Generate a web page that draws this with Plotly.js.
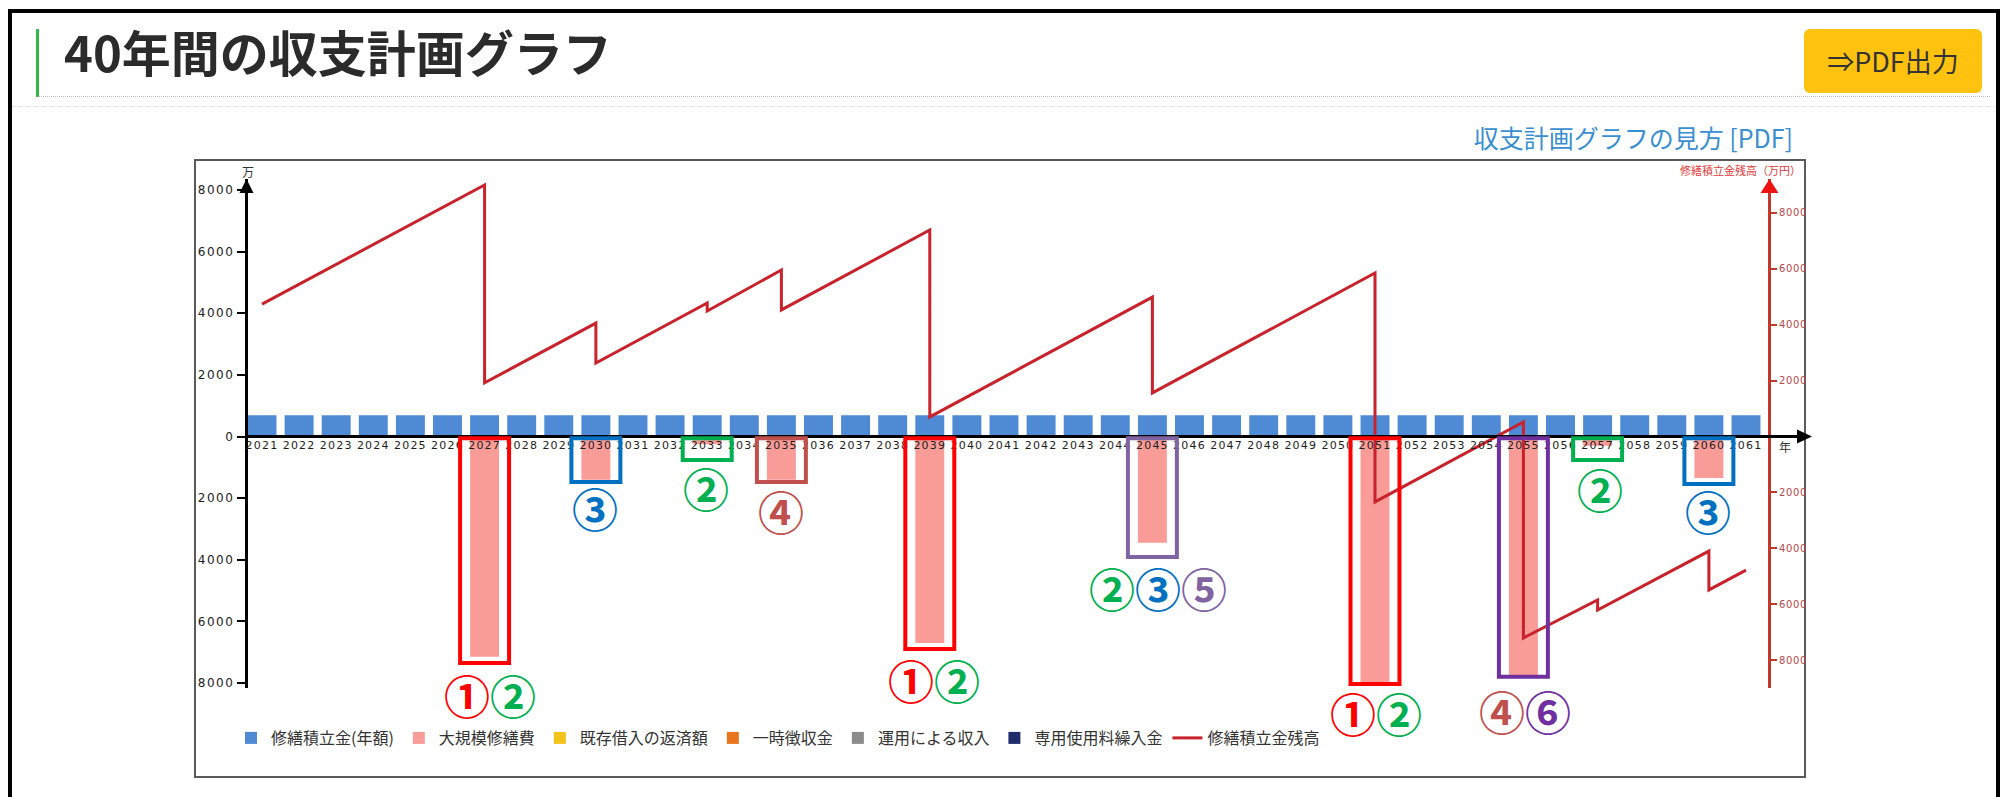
<!DOCTYPE html>
<html>
<head>
<meta charset="utf-8">
<script src="https://cdn.plot.ly/plotly-3.0.1.min.js"></script>
<style>
  html, body { margin: 0; padding: 0; background: #fff; width: 2004px; height: 797px; overflow: hidden;
    font-family: "Noto Sans CJK JP", "Noto Sans", sans-serif; }
  #frame { position: absolute; left: 8px; top: 9px; width: 1992px; height: 900px; box-sizing: border-box;
    border: 4px solid #000; border-bottom: none; }
  #accent { position: absolute; left: 36px; top: 29px; width: 3px; height: 68px; background: #35b44a; }
  #heading { position: absolute; left: 64px; top: 25px; height: 52px; line-height: 52px; font-size: 49px;
    font-weight: 700; color: #2b2b2b; white-space: nowrap; }
  #rule1 { position: absolute; left: 38px; top: 96px; width: 1952px; border-top: 1px dotted #b8b8b8; }
  #rule2 { position: absolute; left: 12px; top: 106px; width: 1984px; border-top: 1px dotted #dcdcdc; }
  #pdfbtn { position: absolute; left: 1804px; top: 29px; width: 178px; height: 64px; border-radius: 6px;
    background: #ffc20e; color: #333; font-size: 27px; line-height: 64px; text-align: center; white-space: nowrap; }
  #guide { position: absolute; right: 211px; top: 122px; font-size: 25px; line-height: 30px; color: #3a8fd0;
    white-space: nowrap; }
  #chartbox { position: absolute; left: 194px; top: 159px; width: 1612px; height: 619px; box-sizing: border-box;
    border: 2px solid #5a5a5a; }
  #chart { position: absolute; left: 195px; top: 160px; width: 1630px; height: 617px; }
  #chart .xtick text { letter-spacing: 1.2px; }
  #chart .ytick text { letter-spacing: 1.6px; }
  #chart .y2tick text { letter-spacing: 0.6px; }
</style>
</head>
<body>
<div id="frame"></div>
<div id="accent"></div>
<div id="heading">40年間の収支計画グラフ</div>
<div id="rule1"></div>
<div id="rule2"></div>
<div id="pdfbtn">⇒PDF出力</div>
<div id="guide">収支計画グラフの見方 [PDF]</div>
<div id="chartbox"></div>
<div id="chart"></div>
<script>
// Fiscal years on the horizontal axis
const years = [2021, 2022, 2023, 2024, 2025, 2026, 2027, 2028, 2029, 2030,
               2031, 2032, 2033, 2034, 2035, 2036, 2037, 2038, 2039, 2040,
               2041, 2042, 2043, 2044, 2045, 2046, 2047, 2048, 2049, 2050,
               2051, 2052, 2053, 2054, 2055, 2056, 2057, 2058, 2059, 2060, 2061];
const yearLabels = ['2021', '2022', '2023', '2024', '2025', '2026', '2027', '2028', '2029', '2030',
                    '2031', '2032', '2033', '2034', '2035', '2036', '2037', '2038', '2039', '2040',
                    '2041', '2042', '2043', '2044', '2045', '2046', '2047', '2048', '2049', '2050',
                    '2051', '2052', '2053', '2054', '2055', '2056', '2057', '2058', '2059', '2060', '2061'];

// 修繕積立金(年額) — annual reserve contribution (万円)
const reserveAnnual = [690, 690, 690, 690, 690, 690, 690, 690, 690, 690,
                       690, 690, 690, 690, 690, 690, 690, 690, 690, 690,
                       690, 690, 690, 690, 690, 690, 690, 690, 690, 690,
                       690, 690, 690, 690, 690, 690, 690, 690, 690, 690, 690];

// 大規模修繕費 — major repair spending (万円, drawn downward)
const majorRepair = [0, 0, 0, 0, 0, 0, 7150, 0, 0, 1400,
                     0, 0, 250, 0, 1400, 0, 0, 0, 6700, 0,
                     0, 0, 0, 0, 3450, 0, 0, 0, 0, 0,
                     8000, 0, 0, 0, 7750, 0, 300, 0, 0, 1350, 0];

// Other cash-flow items (none in this plan)
const loanRepayment    = [0, 0, 0, 0, 0, 0, 0, 0, 0, 0, 0, 0, 0, 0, 0, 0, 0, 0, 0, 0, 0,
                          0, 0, 0, 0, 0, 0, 0, 0, 0, 0, 0, 0, 0, 0, 0, 0, 0, 0, 0, 0];
const lumpSumLevy      = [0, 0, 0, 0, 0, 0, 0, 0, 0, 0, 0, 0, 0, 0, 0, 0, 0, 0, 0, 0, 0,
                          0, 0, 0, 0, 0, 0, 0, 0, 0, 0, 0, 0, 0, 0, 0, 0, 0, 0, 0, 0];
const investIncome     = [0, 0, 0, 0, 0, 0, 0, 0, 0, 0, 0, 0, 0, 0, 0, 0, 0, 0, 0, 0, 0,
                          0, 0, 0, 0, 0, 0, 0, 0, 0, 0, 0, 0, 0, 0, 0, 0, 0, 0, 0, 0];
const usageFeeTransfer = [0, 0, 0, 0, 0, 0, 0, 0, 0, 0, 0, 0, 0, 0, 0, 0, 0, 0, 0, 0, 0,
                          0, 0, 0, 0, 0, 0, 0, 0, 0, 0, 0, 0, 0, 0, 0, 0, 0, 0, 0, 0];

// 修繕積立金残高 — reserve balance (万円); repair years carry the balance before and after spending
const balanceYears  = [2021, 2027, 2027, 2030, 2030, 2033, 2033, 2035, 2035, 2039, 2039,
                       2045, 2045, 2051, 2051, 2055, 2055, 2057, 2057, 2060, 2060, 2061];
const balanceValues = [4740, 9000, 1920, 4060, 2630, 4780, 4490, 5960, 4530, 7390, 700,
                       4990, 1560, 5850, -2340, 520, -7210, -5850, -6210, -4100, -5490, -4780];

// Axis ticks (magnitudes shown without sign on both sides of zero)
const leftTicks  = [-8000, -6000, -4000, -2000, 0, 2000, 4000, 6000, 8000];
const leftTickText  = ['8000', '6000', '4000', '2000', '0', '2000', '4000', '6000', '8000'];
const rightTicks = [-8000, -6000, -4000, -2000, 2000, 4000, 6000, 8000];
const rightTickText = ['8000', '6000', '4000', '2000', '2000', '4000', '6000', '8000'];

// Explanatory call-outs around notable repair years
const callouts = [
  { year: 2027, bottom: -7350, box: '#ff0000', marks: ['①', '②'], labelY: -8360, shift: 5 },
  { year: 2030, bottom: -1480, box: '#0070c0', marks: ['③'],       labelY: -2290, shift: -1 },
  { year: 2033, bottom: -760,  box: '#00b050', marks: ['②'],       labelY: -1640, shift: -1 },
  { year: 2035, bottom: -1480, box: '#c0504d', marks: ['④'],       labelY: -2390, shift: 0 },
  { year: 2039, bottom: -6900, box: '#ff0000', marks: ['①', '②'], labelY: -7870, shift: 4 },
  { year: 2045, bottom: -3910, box: '#8064a2', marks: ['②', '③', '⑤'], labelY: -4890, shift: 6 },
  { year: 2051, bottom: -8030, box: '#ff0000', marks: ['①', '②'], labelY: -8940, shift: 1 },
  { year: 2055, bottom: -7800, box: '#7030a0', marks: ['④', '⑥'], labelY: -8880, shift: 2 },
  { year: 2057, bottom: -760,  box: '#00b050', marks: ['②'],       labelY: -1670, shift: 2 },
  { year: 2060, bottom: -1540, box: '#0070c0', marks: ['③'],       labelY: -2390, shift: -1 }
];
const markColors = { '①': '#ff0000', '②': '#00b050', '③': '#0070c0', '④': '#c0504d', '⑤': '#8064a2', '⑥': '#7030a0' };

// ---- chart geometry ----
const Y_LEFT  = [-8163, 8358];
const Y_RIGHT = [-9001, 9216];
const X_RANGE = [2020.623, 2061.593];
const PLOT_W = 1520, PLOT_H = 509;
const paperY = v => (v - Y_LEFT[0]) / (Y_LEFT[1] - Y_LEFT[0]);
const pxX = px => px / PLOT_W;
const pxY = px => px / PLOT_H;
const zeroP = paperY(0);
const tickFont = { family: 'DejaVu Sans, sans-serif', size: 11, color: '#1e1e1e' };

const bar = (name, y, color) => ({
  type: 'bar', name: name, x: years, y: y, yaxis: 'y',
  marker: { color: color, line: { width: 0 } }, hoverinfo: 'skip'
});

const traces = [
  bar('修繕積立金(年額)', reserveAnnual, '#4f8ad5'),
  bar('大規模修繕費', majorRepair.map(v => -v), '#f99b97'),
  bar('既存借入の返済額', loanRepayment, '#f3c31c'),
  bar('一時徴収金', lumpSumLevy, '#e8761e'),
  bar('運用による収入', investIncome, '#8c8c8c'),
  bar('専用使用料繰入金', usageFeeTransfer, '#1f2d6c'),
  {
    type: 'scatter', mode: 'lines', name: '修繕積立金残高',
    x: balanceYears, y: balanceValues, yaxis: 'y2',
    line: { color: '#c8232c', width: 3 }, hoverinfo: 'skip'
  }
];

const tri = (pts) => 'M ' + pts.map(p => p[0] + ',' + p[1]).join(' L ') + ' Z';

const shapes = [
  // horizontal zero axis with arrowhead
  { type: 'line', xref: 'paper', yref: 'paper', x0: pxX(-3), x1: pxX(1551), y0: zeroP, y1: zeroP,
    line: { color: '#000', width: 3 }, layer: 'above' },
  { type: 'path', xref: 'paper', yref: 'paper', layer: 'above',
    path: tri([[pxX(1549), zeroP + pxY(7)], [pxX(1564), zeroP], [pxX(1549), zeroP - pxY(7)]]),
    fillcolor: '#000', line: { width: 0 } },
  // left axis arrowhead
  { type: 'path', xref: 'paper', yref: 'paper', layer: 'above',
    path: tri([[pxX(-8.5), 1 - pxY(14)], [pxX(-1.5), 1], [pxX(5.5), 1 - pxY(14)]]),
    fillcolor: '#000', line: { width: 0 } },
  // right axis arrowhead
  { type: 'path', xref: 'paper', yref: 'paper', layer: 'above',
    path: tri([[1 + pxX(-7.5), 1 - pxY(14)], [1 + pxX(1.5), 1], [1 + pxX(10.5), 1 - pxY(14)]]),
    fillcolor: '#ee1414', line: { width: 0 } }
];

callouts.forEach(c => {
  shapes.push({
    type: 'rect', xref: 'x', yref: 'paper', layer: 'above',
    x0: c.year - 0.66, x1: c.year + 0.66, y0: paperY(c.bottom), y1: paperY(-60),
    line: { color: c.box, width: 4 }, fillcolor: 'rgba(0,0,0,0)'
  });
});

const annotations = [
  { xref: 'paper', yref: 'paper', x: 0, y: 1 + pxY(7), text: '万', showarrow: false,
    font: { family: 'Noto Sans CJK JP', size: 12, color: '#333' }, xanchor: 'center', yanchor: 'middle' },
  { xref: 'paper', yref: 'paper', x: 1 + pxX(17), y: zeroP - pxY(10), text: '年', showarrow: false,
    font: { family: 'Noto Sans CJK JP', size: 12, color: '#333' }, xanchor: 'center', yanchor: 'middle' },
  { xref: 'paper', yref: 'paper', x: 1 + pxX(35), y: 1 + pxY(9), text: '修繕積立金残高（万円）', showarrow: false,
    font: { family: 'Noto Sans CJK JP', size: 11, color: '#e03a3a' }, xanchor: 'right', yanchor: 'middle' }
];

callouts.forEach(c => {
  annotations.push({
    xref: 'x', yref: 'paper', x: c.year, y: paperY(c.labelY), xshift: c.shift,
    text: c.marks.map(m => '<span style="color:' + markColors[m] + '">' + m + '</span>').join(''),
    showarrow: false, xanchor: 'center', yanchor: 'middle',
    font: { family: 'Noto Sans CJK JP', size: 46, weight: 700 }
  });
});

const layout = {
  width: 1630, height: 617,
  margin: { l: 53, r: 57, t: 19, b: 89, autoexpand: false },
  paper_bgcolor: 'rgba(0,0,0,0)', plot_bgcolor: 'rgba(0,0,0,0)',
  barmode: 'relative', bargap: 0.22,
  showlegend: true,
  legend: {
    orientation: 'h', x: pxX(530), xanchor: 'center', y: -pxY(50), yanchor: 'middle',
    font: { family: 'Noto Sans CJK JP', size: 16, color: '#333' }, bgcolor: 'rgba(0,0,0,0)',
    itemwidth: 30, traceorder: 'normal'
  },
  xaxis: {
    type: 'linear', range: X_RANGE, anchor: 'free', position: zeroP,
    tickmode: 'array', tickvals: years, ticktext: yearLabels, ticks: '',
    showline: false, showgrid: false, zeroline: false, tickfont: tickFont, ticklabelstandoff: 0
  },
  yaxis: {
    range: Y_LEFT, tickmode: 'array', tickvals: leftTicks, ticktext: leftTickText,
    showline: true, linecolor: '#000', linewidth: 3, ticks: 'outside', ticklen: 8, tickwidth: 2,
    tickcolor: '#000', showgrid: false, zeroline: false,
    tickfont: { family: 'DejaVu Sans, sans-serif', size: 12, color: '#222' }
  },
  yaxis2: {
    range: Y_RIGHT, overlaying: 'y', side: 'right', anchor: 'x',
    tickmode: 'array', tickvals: rightTicks, ticktext: rightTickText,
    showline: true, linecolor: '#c0392b', linewidth: 3, ticks: 'outside', ticklen: 6, tickwidth: 2,
    tickcolor: '#c0392b', showgrid: false, zeroline: false, ticklabelstandoff: 0,
    tickfont: { family: 'DejaVu Sans, sans-serif', size: 10, color: '#b44a4a' }
  },
  shapes: shapes,
  annotations: annotations
};

Plotly.newPlot('chart', traces, layout, { staticPlot: true, displayModeBar: false });
</script>
</body>
</html>
